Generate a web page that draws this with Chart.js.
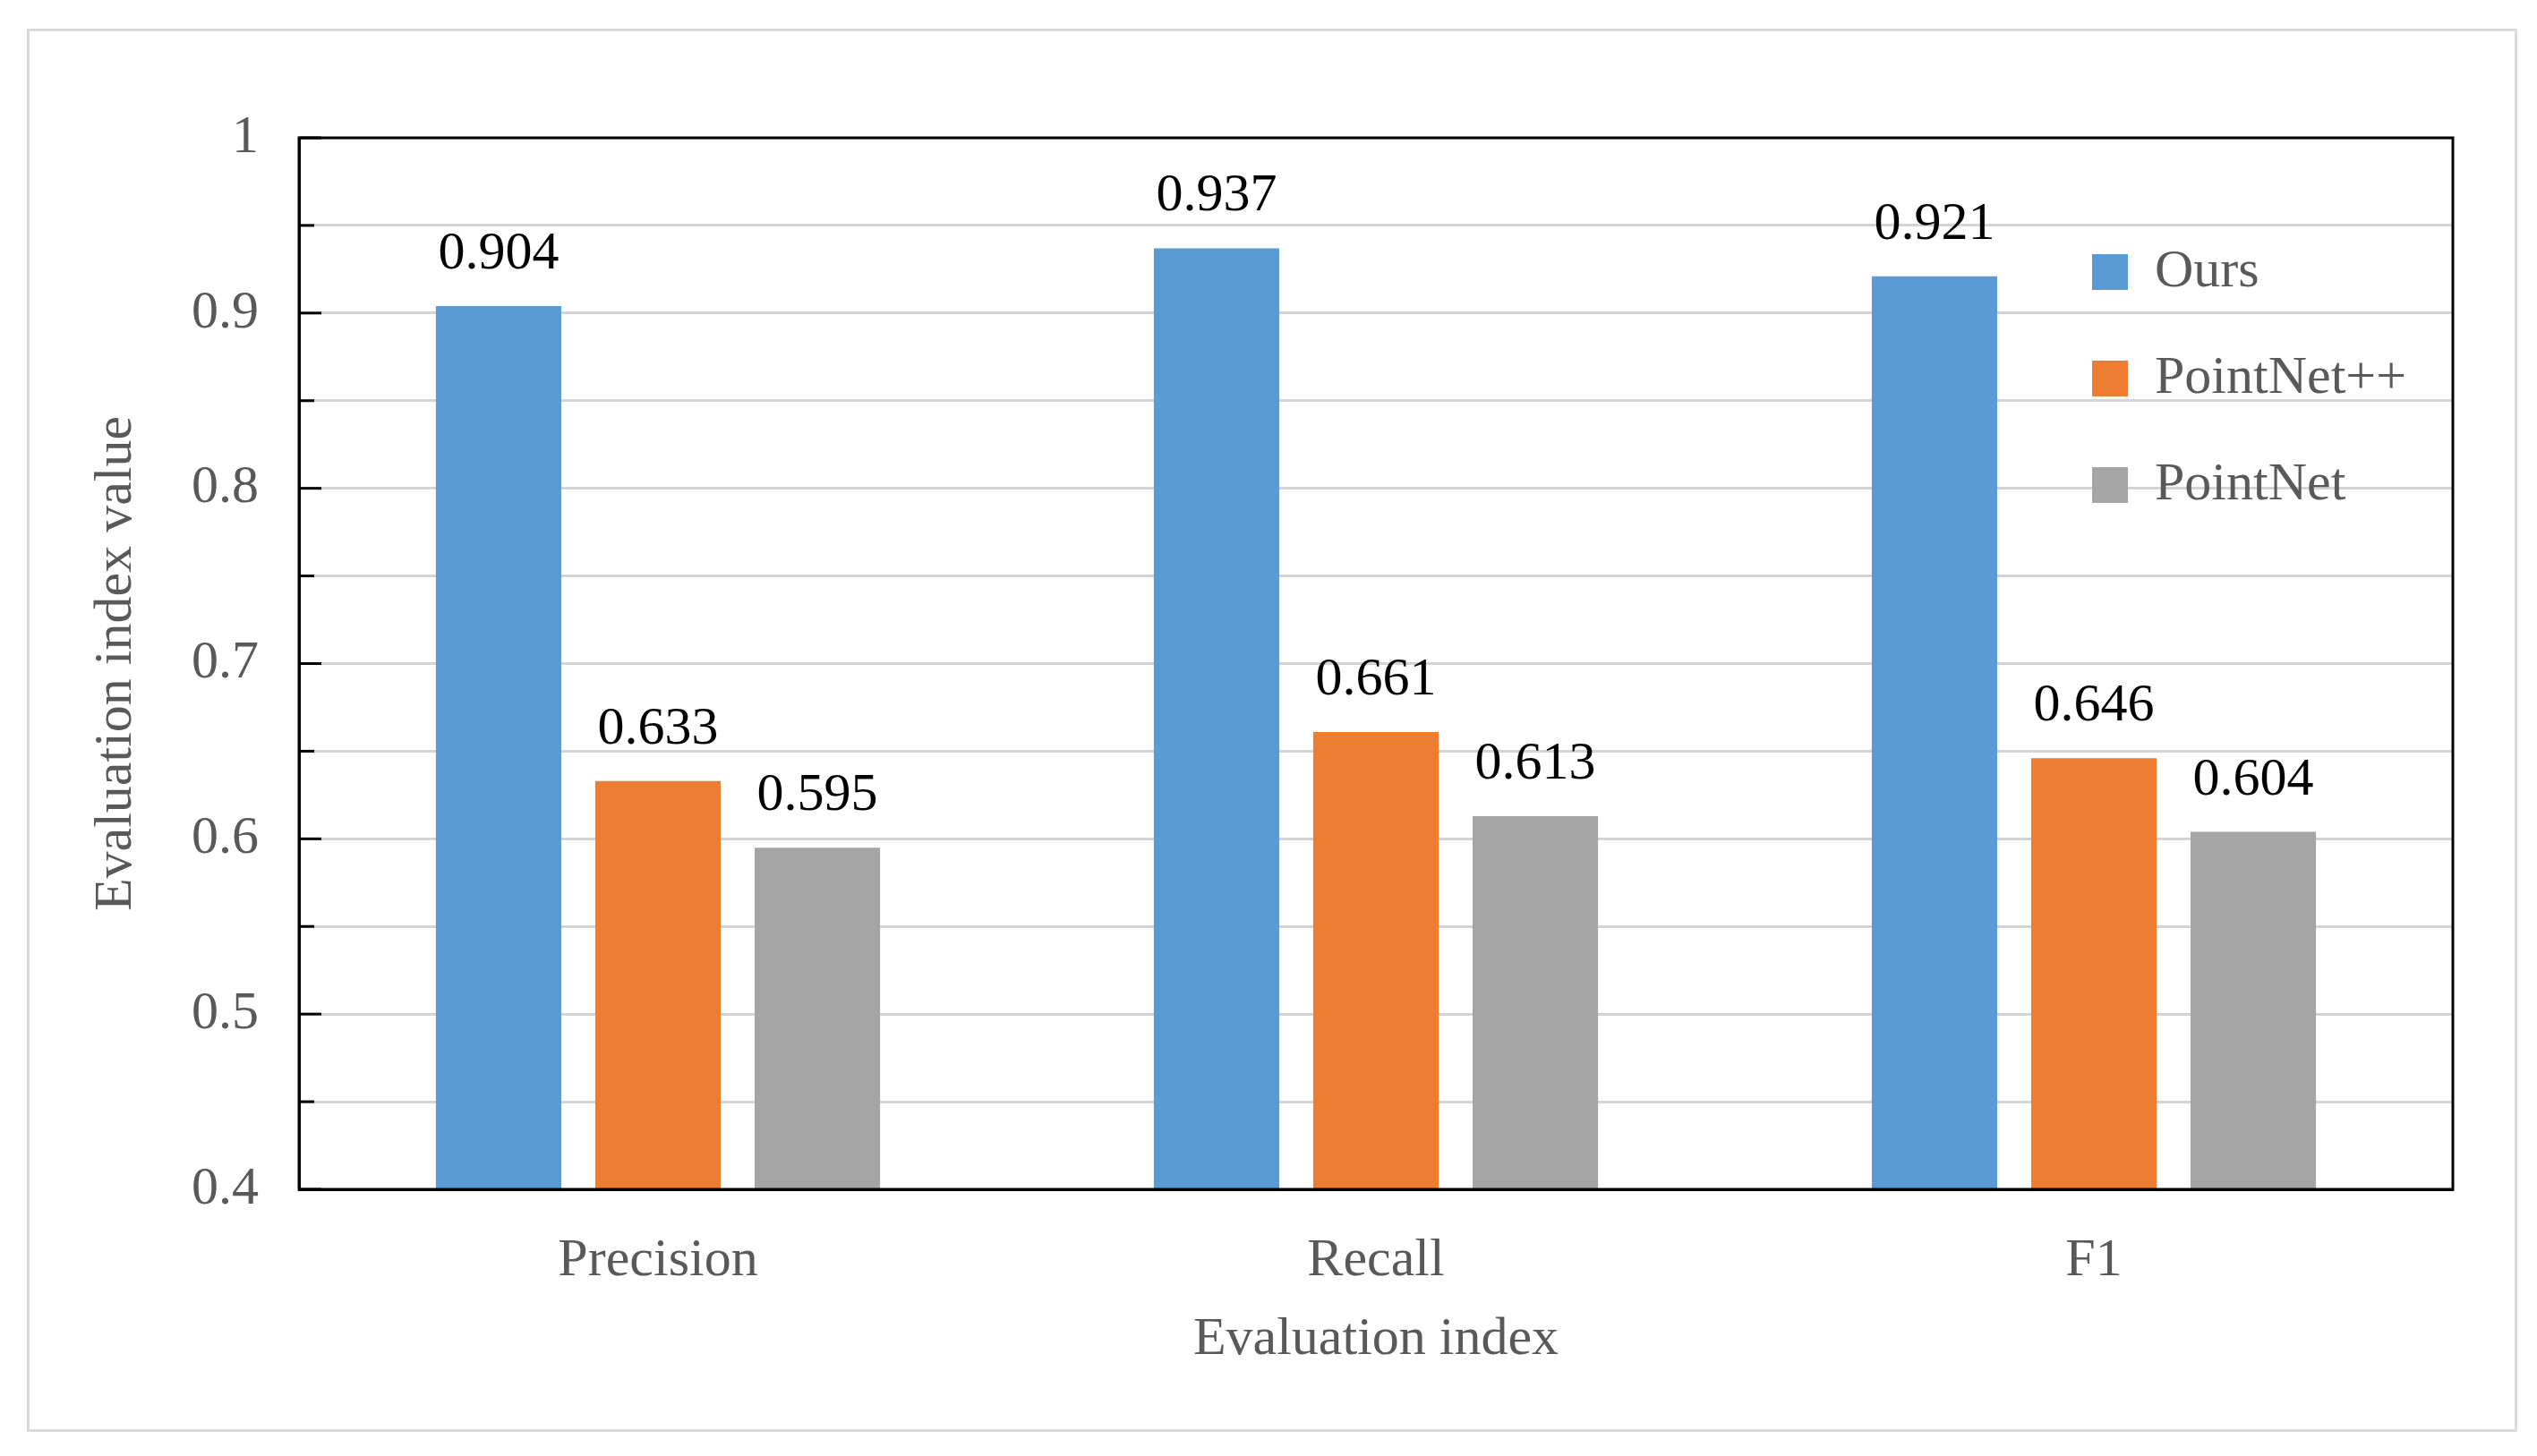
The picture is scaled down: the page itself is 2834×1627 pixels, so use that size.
<!DOCTYPE html>
<html>
<head>
<meta charset="utf-8">
<script src="https://cdn.jsdelivr.net/npm/chart.js@4.4.1/dist/chart.umd.min.js"></script>
<style>
  html, body { margin: 0; padding: 0; background: #fff; }
  #frame {
    position: absolute; left: 30px; top: 32px;
    width: 2776px; height: 1562px;
    border: 3px solid #d9d9d9;
  }
</style>
</head>
<body>
<div id="frame"><canvas id="chart"></canvas></div>
<script>
// ── Data ──────────────────────────────────────────────────────────
const categories     = ['Precision', 'Recall', 'F1'];
const seriesNames    = ['Ours', 'PointNet++', 'PointNet'];
const oursValues     = [0.904, 0.937, 0.921];
const pointNetPP     = [0.633, 0.661, 0.646];
const pointNetValues = [0.595, 0.613, 0.604];
const seriesColors   = ['#5B9BD5', '#ED7D31', '#A5A5A5'];
const yMin = 0.4, yMax = 1, yStep = 0.05;

const FONT = "'Liberation Serif', 'Times New Roman', serif";
const GREY_TEXT = '#595959';

// ── Plugins ───────────────────────────────────────────────────────
// frame around the plot, inward tick marks, value labels
const plotDecor = {
  id: 'plotDecor',
  afterLayout(chart) {
    // move the built-in legend into the upper right of the plot area
    const lg = chart.legend;
    if (!lg) return;
    const ca = chart.chartArea;
    const w = lg.width, h = lg.height;
    lg.left = ca.right - 462;
    lg.right = lg.left + w;
    lg.top = ca.top + 61;
    lg.bottom = lg.top + h;
  },
  afterDatasetsDraw(chart) {
    const { ctx, chartArea: ca } = chart;
    const y = chart.scales.y;
    ctx.save();
    // value labels
    ctx.fillStyle = '#000';
    ctx.font = '60px ' + FONT;
    ctx.textAlign = 'center';
    ctx.textBaseline = 'alphabetic';
    chart.data.datasets.forEach((ds, di) => {
      chart.getDatasetMeta(di).data.forEach((bar, i) => {
        ctx.fillText(ds.data[i].toFixed(3), bar.x, bar.y - 42);
      });
    });
    // inward ticks
    ctx.strokeStyle = '#000';
    ctx.lineWidth = 3;
    y.ticks.forEach((t, i) => {
      const py = y.getPixelForTick(i);
      const major = Math.round(t.value * 100) % 10 === 0;
      ctx.beginPath();
      ctx.moveTo(ca.left, py);
      ctx.lineTo(ca.left + (major ? 25 : 17), py);
      ctx.stroke();
    });
    // plot frame
    ctx.lineWidth = 3;
    ctx.strokeRect(ca.left, ca.top, ca.right - ca.left, ca.bottom - ca.top);
    ctx.restore();
  },
};

// ── Chart ─────────────────────────────────────────────────────────
new Chart(document.getElementById('chart'), {
  type: 'bar',
  data: {
    labels: categories,
    datasets: [oursValues, pointNetPP, pointNetValues].map((vals, i) => ({
      label: seriesNames[i],
      data: vals,
      backgroundColor: seriesColors[i],
      borderWidth: 0,
      categoryPercentage: 0.666,
      barPercentage: 0.787,
    })),
  },
  options: {
    responsive: true,
    maintainAspectRatio: false,
    animation: false,
    layout: { padding: { left: 0, top: 119, right: 69, bottom: 64 } },
    plugins: {
      legend: {
        position: 'chartArea',
        align: 'start',
        labels: {
          color: GREY_TEXT,
          font: { family: FONT, size: 60 },
          boxWidth: 40,
          boxHeight: 40,
          padding: 59,
        },
      },
      tooltip: { enabled: false },
    },
    scales: {
      x: {
        grid: { display: false },
        border: { color: '#000', width: 3 },
        ticks: { color: GREY_TEXT, font: { family: FONT, size: 60 }, padding: 36 },
        title: {
          display: true,
          text: 'Evaluation index',
          color: GREY_TEXT,
          font: { family: FONT, size: 60 },
          padding: { top: -20, bottom: 0 },
        },
      },
      y: {
        min: yMin,
        max: yMax,
        grid: { color: '#d4d4d4', lineWidth: 3, drawTicks: false },
        border: { color: '#000', width: 3 },
        ticks: {
          stepSize: yStep,
          color: GREY_TEXT,
          font: { family: FONT, size: 60 },
          padding: 45,
          callback: v => Math.round(v * 100) % 10 === 0 ? String(+v.toFixed(1)) : '',
        },
        title: {
          display: true,
          text: 'Evaluation index value',
          color: GREY_TEXT,
          font: { family: FONT, size: 60 },
          padding: { top: 61, bottom: 3 },
        },
      },
    },
  },
  plugins: [plotDecor],
});
</script>
</body>
</html>
